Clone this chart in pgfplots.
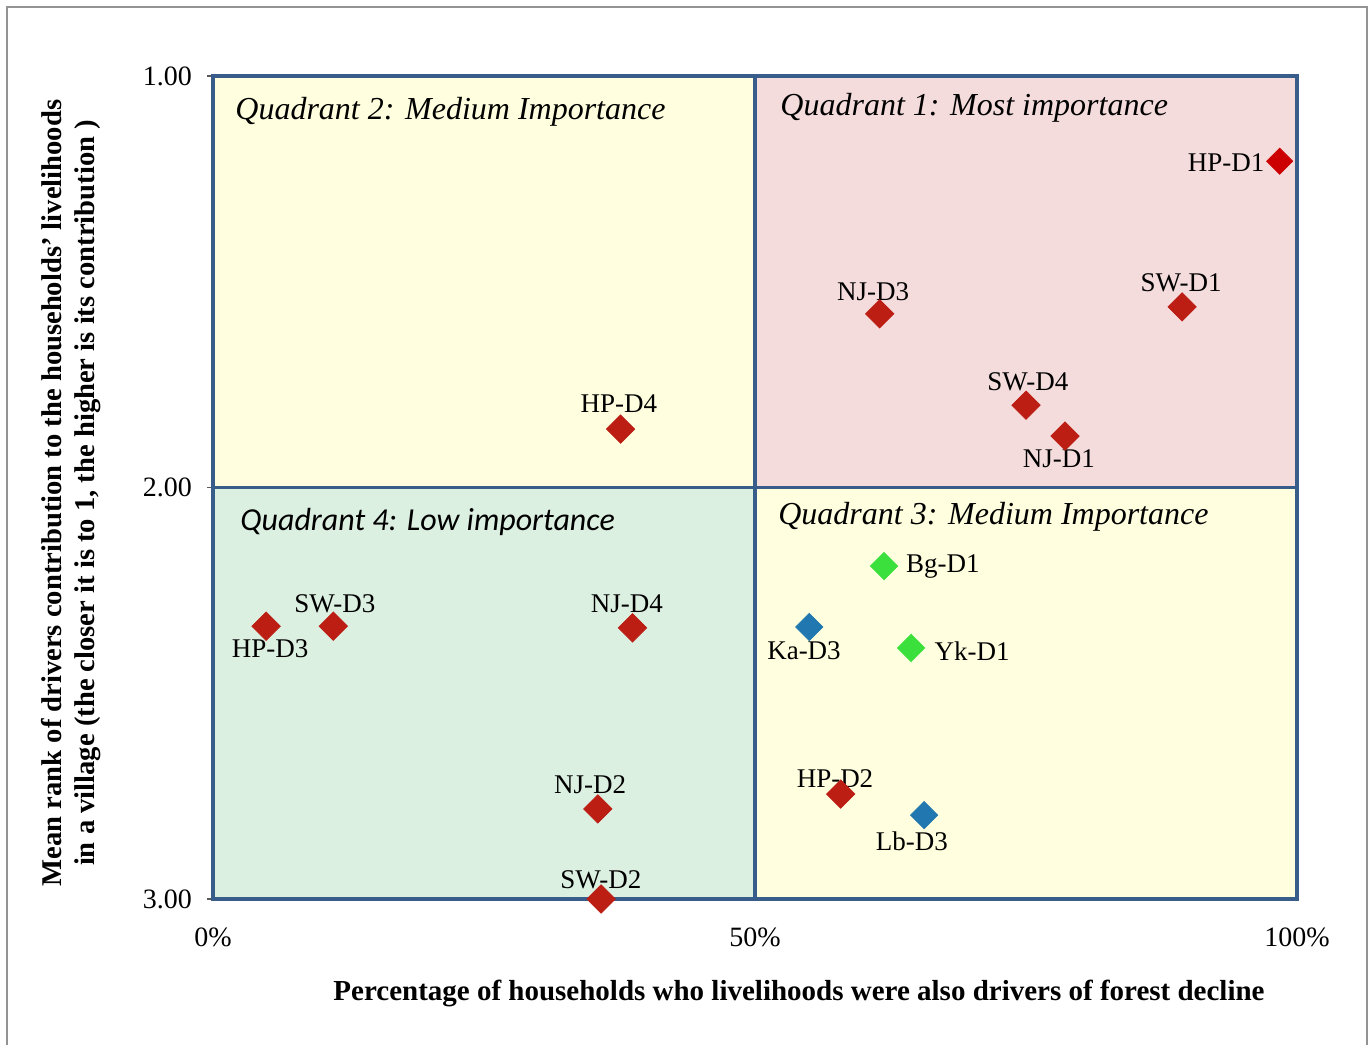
\documentclass[border=0pt]{standalone}
\usepackage{pgfplots}
\pgfplotsset{compat=1.18}
\usepackage{fontspec}
\setmainfont{Liberation Serif}
\newfontfamily\carlito{Carlito}
\newfontfamily\serita{Liberation Serif Italic}
\definecolor{qborder}{HTML}{385D8A}
\definecolor{qyellow}{HTML}{FFFFDF}
\definecolor{qpink}{HTML}{F5DCDC}
\definecolor{qgreen}{HTML}{DCF0E2}
\definecolor{dred}{HTML}{BC1E14}
\definecolor{bred}{HTML}{CC0000}
\definecolor{mgreen}{HTML}{3CE03C}
\definecolor{mblue}{HTML}{2178B0}
\pgfplotstableread{
x y
98.4 1.207
}\hpdone
\pgfplotstableread{
x y
61.5 1.578
89.4 1.561
75.0 1.800
78.6 1.875
37.6 1.858
4.9 2.337
11.1 2.337
38.7 2.341
35.5 2.781
35.8 3.000
57.9 2.745
}\reddata
\pgfplotstableread{
x y
55.0 2.339
65.6 2.796
}\bluedata
\pgfplotstableread{
x y
61.9 2.191
64.4 2.390
}\greendata
\begin{document}
\begin{tikzpicture}
\path[use as bounding box] (0,0) rectangle (685pt,522.5pt);
\draw[gray!85, line width=1pt] (3.5pt,0) -- (3.5pt,519pt) -- (683.5pt,519pt) -- (683.5pt,0);
\begin{axis}[
  at={(106.5pt,73pt)}, anchor=south west,
  width=542pt, height=411.5pt, scale only axis,
  xmin=0, xmax=100, ymin=1, ymax=3,
  y dir=reverse,
  clip=false,
  axis line style={draw=none},
  xtick={0,50,100}, xticklabels={0\%,50\%,100\%},
  ytick={1,2,3},
  yticklabel style={/pgf/number format/fixed, /pgf/number format/fixed zerofill, /pgf/number format/precision=2, xshift=-4pt},
  /pgf/number format/assume math mode=true,
  tick label style={font=\fontsize{14}{16}\selectfont},
  xtick pos=bottom, ytick pos=left,
  xtick style={draw=none},
  ytick style={draw=gray!70!black, line width=0.8pt},
  major tick length=3pt, tick align=outside,
  xticklabel style={yshift=-8pt},
]
\fill[qyellow] (axis cs:0,1) rectangle (axis cs:50,2);
\fill[qpink] (axis cs:50,1) rectangle (axis cs:100,2);
\fill[qgreen] (axis cs:0,2) rectangle (axis cs:50,3);
\fill[qyellow] (axis cs:50,2) rectangle (axis cs:100,3);
\draw[qborder, line width=1.8pt] (axis cs:0,1) rectangle (axis cs:100,3);
\draw[qborder, line width=1.8pt] (axis cs:50,1) -- (axis cs:50,3);
\draw[qborder, line width=1.8pt] (axis cs:0,2) -- (axis cs:100,2);
\node[anchor=west, inner sep=0, font=\serita\fontsize{16}{18}\selectfont] at (axis cs:2.03,1.0875) {Quadrant 2: Medium Importance};
\node[anchor=west, inner sep=0, font=\serita\fontsize{16}{18}\selectfont] at (axis cs:52.31,1.078) {Quadrant 1: Most importance};
\node[anchor=west, inner sep=0, font=\carlito\itshape\fontsize{16}{18}\selectfont] at (axis cs:2.49,2.084) {Quadrant 4: Low importance};
\node[anchor=west, inner sep=0, font=\serita\fontsize{16}{18}\selectfont] at (axis cs:52.12,2.072) {Quadrant 3: Medium Importance};
\addplot[only marks, mark=square*, mark size=5pt, mark options={rotate=45, fill=dred, draw=dred}] table[x=x,y=y] {\reddata};
\addplot[only marks, mark=square*, mark size=4.6pt, mark options={rotate=45, fill=bred, draw=bred}] table[x=x,y=y] {\hpdone};
\addplot[only marks, mark=square*, mark size=4.8pt, mark options={rotate=45, fill=mblue, draw=mblue}] table[x=x,y=y] {\bluedata};
\addplot[only marks, mark=square*, mark size=4.8pt, mark options={rotate=45, fill=mgreen, draw=mgreen}] table[x=x,y=y] {\greendata};
\tikzset{lab/.style={inner sep=0, font=\fontsize{13.5}{15}\selectfont}}
\node[lab] at (axis cs:93.45,1.211) {HP-D1};
\node[lab] at (axis cs:60.89,1.525) {NJ-D3};
\node[lab] at (axis cs:89.30,1.503) {SW-D1};
\node[lab] at (axis cs:75.18,1.744) {SW-D4};
\node[lab] at (axis cs:78.04,1.931) {NJ-D1};
\node[lab] at (axis cs:37.45,1.797) {HP-D4};
\node[lab] at (axis cs:5.26,2.392) {HP-D3};
\node[lab] at (axis cs:11.25,2.283) {SW-D3};
\node[lab] at (axis cs:38.19,2.283) {NJ-D4};
\node[lab] at (axis cs:34.78,2.723) {NJ-D2};
\node[lab] at (axis cs:35.79,2.954) {SW-D2};
\node[lab] at (axis cs:67.34,2.191) {Bg-D1};
\node[lab] at (axis cs:54.52,2.397) {Ka-D3};
\node[lab] at (axis cs:70.02,2.397) {Yk-D1};
\node[lab] at (axis cs:57.38,2.708) {HP-D2};
\node[lab] at (axis cs:64.48,2.859) {Lb-D3};
\end{axis}
\node[font=\bfseries\fontsize{14.5}{16}\selectfont] at (399.5pt,26pt) {Percentage of households who livelihoods were also drivers of forest decline};
\node[rotate=90, align=center, font=\bfseries\fontsize{14.3}{16.5}\selectfont] at (35.75pt,276pt) {Mean rank of drivers contribution to the households' livelihoods\\in a village (the closer it is to 1, the higher is its contribution )};
\end{tikzpicture}
\end{document}
